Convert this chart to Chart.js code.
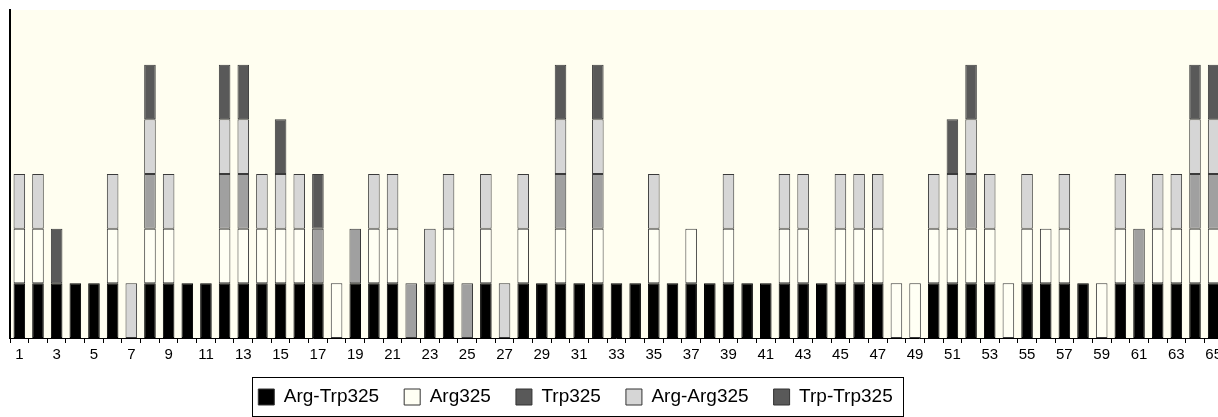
<!DOCTYPE html>
<html>
<head>
<meta charset="utf-8">
<script src="https://cdn.jsdelivr.net/npm/chart.js@4.4.1/dist/chart.umd.min.js"></script>
<style>
    html, body { margin: 0; padding: 0; background: #ffffff; overflow: hidden; }
    #container { position: relative; width: 1225px; height: 417px; }
</style>
</head>
<body>
<div id="container"><canvas id="genotypeChart"></canvas></div>
<script>
// Nhãn trục x: 65 mẫu
const LABELS = [];
for (let i = 1; i <= 65; i++) LABELS.push(String(i));

const SERIES_NAMES = ['Arg-Trp325', 'Arg325', 'Trp325', 'Arg-Arg325', 'Trp-Trp325'];

// Giá trị cho từng mẫu (1 = có, 0 = không)
const ARG_TRP = [1,1,1,1,1,1,0,1,1,1, 1,1,1,1,1,1,1,0,1,1, 1,0,1,1,0,1,0,1,1,1,
                 1,1,1,1,1,1,1,1,1,1, 1,1,1,1,1,1,1,0,0,1, 1,1,1,0,1,1,1,1,0,1, 1,1,1,1,1];
const ARG = [1,1,0,0,0,1,0,1,1,0, 0,1,1,1,1,1,0,1,0,1, 1,0,0,1,0,1,0,1,0,1,
             0,1,0,0,1,0,1,0,1,0, 0,1,1,0,1,1,1,1,1,1, 1,1,1,1,1,1,1,0,1,1, 0,1,1,1,1];
const TRP = [0,0,0,0,0,0,0,1,0,0, 0,1,1,0,0,0,1,0,1,0, 0,1,0,0,1,0,0,0,0,1,
             0,1,0,0,0,0,0,0,0,0, 0,0,0,0,0,0,0,0,0,0, 0,1,0,0,0,0,0,0,0,0, 1,0,0,1,1];
const ARG_ARG = [1,1,0,0,0,1,1,1,1,0, 0,1,1,1,1,1,0,0,0,1, 1,0,1,1,0,1,1,1,0,1,
                 0,1,0,0,1,0,0,0,1,0, 0,1,1,0,1,1,1,0,0,1, 1,1,1,0,1,0,1,0,0,1, 0,1,1,1,1];
const TRP_TRP = [0,0,1,0,0,0,0,1,0,0, 0,1,1,0,1,0,1,0,0,0, 0,0,0,0,0,0,0,0,0,1,
                 0,1,0,0,0,0,0,0,0,0, 0,0,0,0,0,0,0,0,0,0, 1,1,0,0,0,0,0,0,0,0, 0,0,0,1,1];

const BAR_COLORS = ['#000000', '#fffff4', '#a0a0a0', '#d6d6d6', '#595959'];
const LEGEND_COLORS = ['#000000', '#fffff4', '#595959', '#d6d6d6', '#595959'];

const FONT = "'Liberation Sans', Arial, Helvetica, sans-serif";
Chart.defaults.font.family = FONT;
Chart.defaults.color = '#000';

const LEGEND_HEIGHT = 50;
const LEGEND_PADDING = 25;
const LEGEND_FONT = 19;

// nền vùng vẽ màu kem, cố định chiều cao chú thích, dời nó sang trái và vẽ khung
const plotBackground = {
    id: 'plotBackground',
    beforeUpdate(chart) {
        const lg = chart.legend;
        if (lg && !lg._fixedHeight) {
            const fit = lg.fit.bind(lg);
            lg.fit = function () {
                fit();
                this.height = LEGEND_HEIGHT;
            };
            lg._fixedHeight = true;
        }
    },
    afterLayout(chart) {
        const lg = chart.legend;
        const dy = (397 - LEGEND_PADDING - LEGEND_FONT / 2) - lg.top;
        lg.left -= 42;
        lg.right -= 42;
        lg.top += dy;
        lg.bottom += dy;
    },
    beforeDraw(chart) {
        const {ctx, chartArea} = chart;
        ctx.save();
        ctx.fillStyle = '#fffef0';
        ctx.fillRect(chartArea.left, chartArea.top, chartArea.right - chartArea.left, chartArea.bottom - chartArea.top);
        ctx.restore();
    },
    afterDraw(chart) {
        const boxes = chart.legend.legendHitBoxes;
        if (!boxes || !boxes.length) return;
        const left = Math.min(...boxes.map(b => b.left)) - 6;
        const right = Math.max(...boxes.map(b => b.left + b.width)) + 11;
        const top = boxes[0].top - 11;
        const bottom = boxes[0].top + boxes[0].height + 9;
        const ctx = chart.ctx;
        ctx.save();
        ctx.strokeStyle = '#000';
        ctx.lineWidth = 1;
        ctx.strokeRect(Math.round(left) + 0.5, Math.round(top) + 0.5, Math.round(right - left), Math.round(bottom - top));
        ctx.restore();
    }
};

function buildDatasets() {
    const values = [ARG_TRP, ARG, TRP, ARG_ARG, TRP_TRP];
    return SERIES_NAMES.map((name, i) => ({
        label: name,
        data: values[i].map(v => v || null),
        backgroundColor: BAR_COLORS[i],
        borderColor: i === 0 ? '#000000' : '#3a3a3a',
        borderWidth: 1,
        borderSkipped: false,
        barPercentage: 0.62,
        categoryPercentage: 1.0
    }));
}

const CTX = document.getElementById('genotypeChart');
new Chart(CTX, {
    type: 'bar',
    data: { labels: LABELS, datasets: buildDatasets() },
    options: {
        responsive: true,
        maintainAspectRatio: false,
        animation: false,
        layout: { padding: { top: 10, left: 10, right: 0, bottom: 0 } },
        plugins: {
            tooltip: { enabled: false },
            legend: {
                position: 'bottom',
                labels: {
                    boxWidth: 16,
                    boxHeight: 16,
                    padding: LEGEND_PADDING,
                    font: { size: LEGEND_FONT },
                    generateLabels(chart) {
                        const items = Chart.defaults.plugins.legend.labels.generateLabels(chart);
                        items.forEach((item, i) => {
                            item.fillStyle = LEGEND_COLORS[i];
                            item.strokeStyle = '#333';
                            item.lineWidth = 1;
                        });
                        return items;
                    }
                }
            }
        },
        scales: {
            x: {
                stacked: true,
                offset: true,
                grid: { display: true, drawOnChartArea: false, drawTicks: true, tickLength: 5, color: '#000', offset: true },
                border: { display: true, color: '#000', width: 1 },
                ticks: {
                    autoSkip: false,
                    maxRotation: 0,
                    padding: 3,
                    font: { size: 15 },
                    callback: (value, index) => index % 2 === 0 ? LABELS[index] : ''
                }
            },
            y: {
                stacked: true,
                min: 0,
                max: 6,
                grid: { display: false },
                border: { display: true, color: '#000', width: 2 },
                ticks: { display: false },
                afterFit: axis => { axis.width = 0; }
            }
        }
    },
    plugins: [plotBackground]
});
</script>
</body>
</html>
